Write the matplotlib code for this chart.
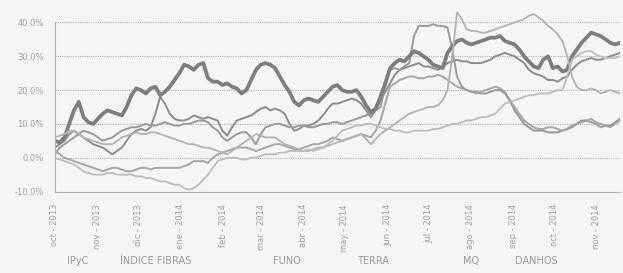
import numpy as np
import pandas as pd
import matplotlib
matplotlib.use("Agg")
import matplotlib.pyplot as plt
from matplotlib.ticker import FuncFormatter, FixedLocator

# Rendimiento acumulado, lecturas cada ~media semana (oct-2013 a nov-2014)
inicio, fin = "2013-10-01", "2014-11-18"

ipyc = [2, 1, 0, -0.5, -1, -1.5, -2, -2.5, -3, -3.5, -4, -3.5, -3, -3, -3.5, -4, -4, -3.5, -3, -3,
        -3.5, -3, -3, -3, -3, -3, -3, -2.5, -2, -1, -1, -1, -1.5, 0, 1, 1.5, 2, 2.5, 3, 3,
        3, 2.5, 2, 2.5, 3, 3.5, 4, 4, 3.5, 3, 2.5, 2.5, 3, 3.5, 4, 4, 4.5, 5, 6, 5.5,
        5, 5.5, 6, 6.5, 7, 6.5, 6, 8, 11, 16, 21, 22, 23, 23.5, 24, 24, 23.5, 23.5, 24, 24,
        24.5, 24, 23, 22, 21, 20.5, 20, 19.5, 19, 19.5, 20, 20.5, 21, 20.5, 19.5, 17, 15, 13, 11, 10,
        9, 8.5, 8.5, 9, 9, 8.5, 8, 8.5, 9.5, 10, 10.5, 11, 11.5, 10.5, 10, 9.5, 9, 10, 11]
fibras = [3, 4, 5, 7, 8, 7, 6, 5, 4, 3.5, 3, 2, 1, 2, 3, 5, 7, 8, 8.5, 8,
          9, 13, 18, 16, 13, 11.5, 11, 11, 11.5, 12.5, 12, 11.5, 12, 11.5, 11, 8, 6.5, 9, 11, 11.5,
          12, 12.5, 13.5, 14.5, 15, 14, 14.5, 14, 13, 10, 8, 8.5, 9.5, 9.5, 10, 11, 12.5, 14.5, 16, 16,
          16.5, 17, 17.5, 17, 16, 14, 12, 14, 17, 19.5, 22, 24.5, 26, 26.5, 27, 27.5, 28, 27, 27, 26.5,
          26, 27, 28, 28.5, 29, 28.5, 28.5, 28, 28, 28, 28.5, 29, 30, 30.5, 31, 30.5, 30, 29, 28, 26,
          25, 24.5, 24, 23, 23, 22.5, 23.5, 24, 26, 27.5, 28.5, 29, 29.5, 29, 29, 29.5, 30, 30.5, 31]
funo = [1, 3, 4, 5, 6, 7, 8, 7.5, 7, 6, 5, 5.5, 6, 7, 8, 8.5, 9, 9, 9.5, 10,
        9.5, 9.5, 10, 10.5, 10, 9.5, 9.5, 10, 10, 10.5, 11, 11, 10.5, 9, 8, 6, 5, 6, 7, 7.5,
        7.5, 6, 4, 7, 9, 9.5, 10, 10, 9.5, 9, 9, 9.5, 9.5, 9, 9, 9.5, 10, 10, 10.5, 10.5,
        10, 10.5, 11, 11.5, 12, 12.5, 13, 14, 15, 21, 26, 26.5, 26, 27, 28, 36, 39, 39, 39, 39.5,
        39, 39, 38.5, 32, 24, 21, 20, 19.5, 19.5, 19, 19, 19.5, 20, 20, 19, 17, 14, 12, 10, 9,
        8, 8, 8, 7.5, 7.5, 7.5, 8, 8.5, 9, 10, 11, 11, 10.5, 10, 9, 9.5, 9.5, 10.5, 11.5]
terra = [5, 4.5, 6, 10, 14, 16.5, 12, 10.5, 10, 11.5, 13, 14, 13.5, 13, 12.5, 15, 18.5, 20.5, 20, 19,
         20.5, 21, 18.5, 19.5, 21, 23, 25, 27.5, 27, 26, 27.5, 28, 23.5, 22.5, 22.5, 21.5, 22, 21, 20.5, 19,
         20, 23, 26, 27.5, 28, 27.5, 26.5, 24, 21.5, 19.5, 16.5, 15.5, 17, 17.5, 17, 16.5, 18, 19.5, 21, 21.5,
         20, 19.5, 19.5, 20, 18, 15.5, 13.5, 14.5, 18, 22, 26.5, 28, 29, 28.5, 30, 31.5, 31, 30, 29, 27.5,
         27, 26.5, 31, 33, 34.5, 35, 34, 33.5, 34, 34.5, 35, 35.5, 35.5, 36, 34.5, 34, 33.5, 32, 30, 28.5,
         27, 26.5, 29, 30, 26.5, 27, 25.5, 26, 30, 32, 34, 35.5, 37, 36.5, 36, 35, 34, 33.5, 34]
mq = [6, 6.5, 7, 8, 8, 7, 6, 5.5, 5, 4.5, 4, 4, 4, 5, 6, 6.5, 7, 7.5, 7, 7,
      7.5, 7.5, 7, 6.5, 6, 5.5, 5, 4.5, 4, 4, 3.5, 3, 3, 2.5, 2, 1.5, 1, 2, 3, 4,
      5, 6, 7, 6.5, 6, 6, 6, 5, 4, 3.5, 3, 2.5, 2, 2, 2.5, 3, 3, 3.5, 4, 4.5,
      5, 5.5, 6, 6.5, 7, 5.5, 4, 5.5, 7, 8, 9, 10, 11, 12, 13, 13.5, 14, 14.5, 15, 15,
      15.5, 17, 20, 30, 43, 41, 38, 37.5, 37.5, 37, 37, 37.5, 38, 38.5, 39, 39.5, 40, 40.5, 41, 42,
      42.5, 41.5, 40.5, 39, 38, 36.5, 34.5, 30, 24, 21, 20, 20, 20.5, 20, 19, 19.5, 20, 19.5, 19]
danhos = [0, -0.5, -1, -1.5, -2, -3, -4, -4.5, -5, -5, -5, -4.5, -4.5, -5, -5, -5, -5, -5.5, -5.5, -6,
          -6, -6.5, -7, -7, -7.5, -8, -8, -9, -9.5, -9, -8, -6.5, -5, -3, -1, -0.5, 0, 0, 0, -0.5,
          -0.5, 0, 0, 0.5, 1, 1, 1, 1.5, 1.5, 2, 2, 2, 2, 2.5, 2, 2.5, 3, 4, 5, 6.5,
          8, 8.5, 9, 9.5, 9.5, 10, 10, 9.5, 9, 8.5, 8.5, 8, 8, 7.5, 7.5, 8, 8, 8, 8, 8.5,
          8.5, 9, 9.5, 10, 10, 10.5, 11, 11, 11.5, 12, 12, 12.5, 13, 14.5, 16, 16.5, 17, 17.5, 18, 18.5,
          18.5, 19, 19, 19, 19.5, 20, 20, 24, 29, 30, 31, 31.5, 31.5, 30.5, 30, 29.5, 29.5, 29.5, 30]

nombres = ["IPyC", "ÍNDICE FIBRAS", "FUNO", "TERRA", "MQ", "DANHOS"]
series = [ipyc, fibras, funo, terra, mq, danhos]
colores = ["#a6a6a6", "#8c8c8c", "#9a9a9a", "#7e7e7e", "#b2b2b2", "#bcbcbc"]
grosores = [1.4, 1.4, 1.4, 2.7, 1.3, 1.3]

meses = ["oct", "nov", "dic", "ene", "feb", "mar", "abr", "may", "jun", "jul", "ago", "sep", "oct", "nov"]
ticks = pd.date_range("2013-10-01", periods=14, freq="MS")
etiquetas = [f"{m} - {t.year}" for m, t in zip(meses, ticks)]

fondo = "#f5f5f3"
fig = plt.figure(figsize=(6.23, 2.73), dpi=100, facecolor=fondo)
ax = fig.add_axes([0.088, 0.2985, 0.907, 0.681])
ax.set_facecolor(fondo)

for s, c, lw in zip(series, colores, grosores):
    fechas = pd.date_range(inicio, fin, periods=len(s))
    ax.plot(fechas, s, color=c, lw=lw)

ax.set_ylim(-10, 45)
ax.set_xlim(pd.Timestamp(inicio), pd.Timestamp(fin))
ax.yaxis.set_major_locator(FixedLocator([-10, 0, 10, 20, 30, 40]))
ax.yaxis.set_major_formatter(FuncFormatter(lambda v, p: f"{v:.1f}%"))
ax.set_xticks(ticks)
ax.set_xticklabels(etiquetas, rotation=90)
ax.tick_params(axis="both", colors="#a0a0a0", labelsize=6, length=0)
ax.tick_params(axis="y", pad=8)
ax.tick_params(axis="x", pad=9)

for v in [0, 10, 20, 30, 40]:
    ax.axhline(v, color="#b0b0b0", lw=0.8, ls=(0, (1, 1)), zorder=0)

for lado in ["top", "right"]:
    ax.spines[lado].set_visible(False)
ax.spines["left"].set_color("#b0b0b0")
ax.spines["bottom"].set_color("#b0b0b0")
ax.spines["left"].set_bounds(-10, 40)

# leyenda (solo texto, como en el original)
pos_x = [67, 120, 273, 357, 463, 515]
for n, x in zip(nombres, pos_x):
    fig.text(x / 623, 1 - 261 / 273, n, fontsize=7, color="#9a9a9a", va="center")

fig.savefig("out.png", dpi=100, facecolor=fig.get_facecolor())
